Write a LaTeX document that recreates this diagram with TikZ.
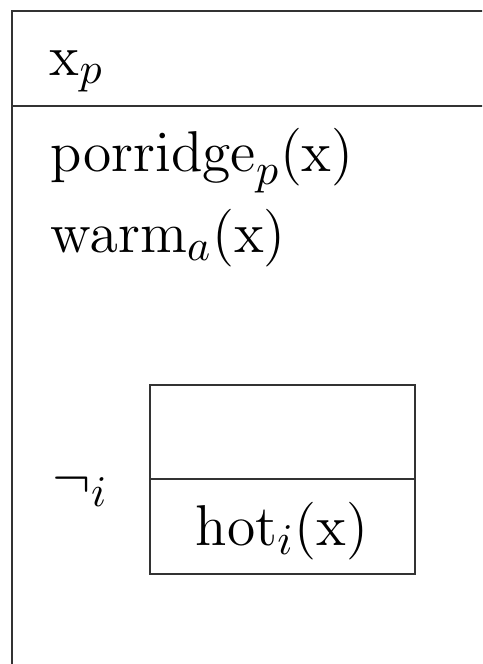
\documentclass[tikz,border=0pt]{standalone}
\usepackage{amsmath}
\usetikzlibrary{positioning}

\begin{document}
\begin{tikzpicture}[x=0.25pt, y=-0.25pt,
					frame/.style={draw=black!80, line width=0.55pt},
					cond/.style={anchor=base west, inner sep=0pt, font=\fontsize{15.5}{18}\selectfont},
					ref/.style={cond}
					]
					
					\useasboundingbox (0,0) rectangle (482,664);
					\clip (0,0) rectangle (482,664);
					
					% Outer box
					\draw[frame] (12,11) rectangle (520,720);
					\draw[frame] (12,106) -- (520,106);
					
					% Universe
					\node[ref] (xp) at (49,75) {$\mathrm{x}_p$};
					
					% Conditions
					\node[cond] (porridge) at (50,171) {$\mathrm{porridge}_p(\mathrm{x})$};
					\node[cond] (warm) at (50,252) {$\mathrm{warm}_a(\mathrm{x})$};
					
					% Negated box
					\node[cond] (neg) at (52,497) {$\neg_i$};
					\draw[frame] (150,385) rectangle (415,574);
					\draw[frame] (150,479) -- (415,479);
					\node[cond, anchor=base] (hot) at (282,545) {$\mathrm{hot}_i(\mathrm{x})$};
					
				\end{tikzpicture}
\end{document}
